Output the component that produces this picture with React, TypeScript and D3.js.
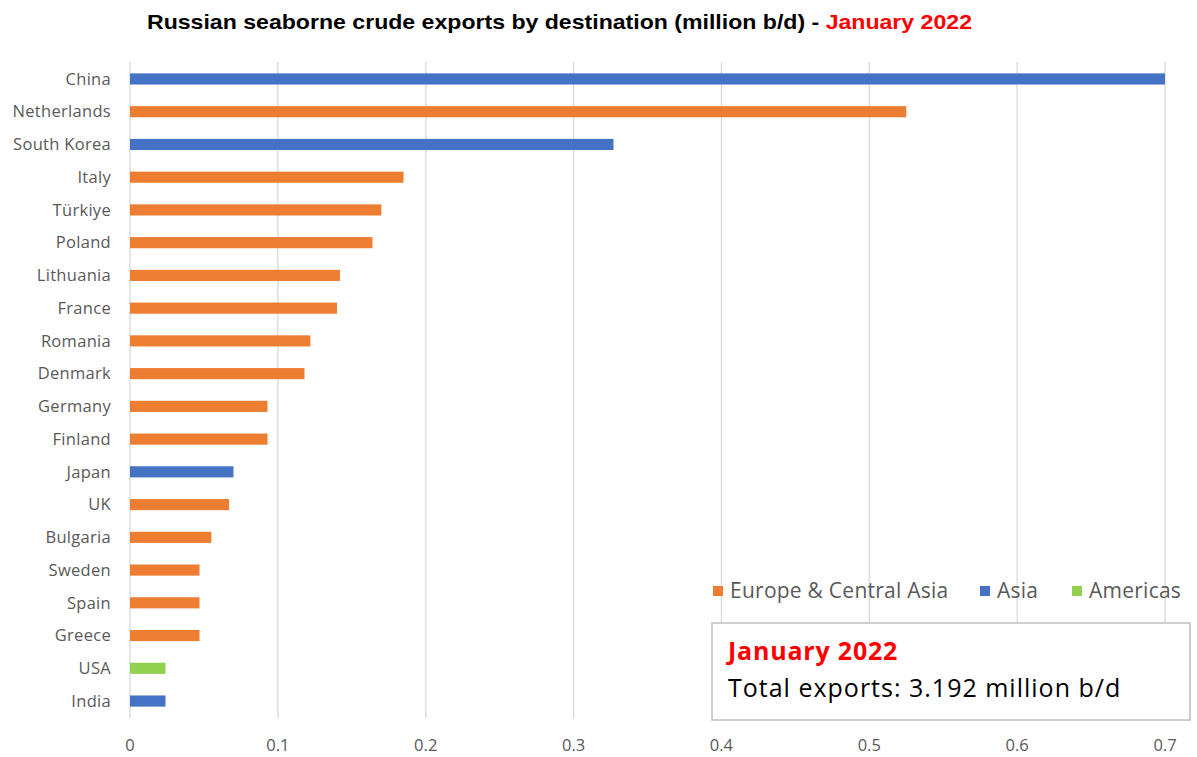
import React from 'react';
import * as d3 from 'd3';

const countries = ['China', 'Netherlands', 'South Korea', 'Italy', 'Türkiye ', 'Poland', 'Lithuania', 'France', 'Romania', 'Denmark', 'Germany', 'Finland', 'Japan', 'UK', 'Bulgaria', 'Sweden', 'Spain', 'Greece', 'USA', 'India'];
const exportsMbd = [0.70, 0.525, 0.327, 0.185, 0.170, 0.164, 0.142, 0.140, 0.122, 0.118, 0.093, 0.093, 0.070, 0.067, 0.055, 0.047, 0.047, 0.047, 0.024, 0.024];
const regions = ['Asia', 'Europe', 'Asia', 'Europe', 'Europe', 'Europe', 'Europe', 'Europe', 'Europe', 'Europe', 'Europe', 'Europe', 'Asia', 'Europe', 'Europe', 'Europe', 'Europe', 'Europe', 'Americas', 'Asia'];
const legendKeys = ['Europe', 'Asia', 'Americas'];
const legendLabels = ['Europe & Central Asia', 'Asia', 'Americas'];
const xTicks = [0, 0.1, 0.2, 0.3, 0.4, 0.5, 0.6, 0.7];

const W = 1197;
const H = 757;
const font = "'Open Sans', 'Noto Sans', sans-serif";

const color = d3.scaleOrdinal<string, string>()
  .domain(legendKeys)
  .range(['#ED7D31', '#4472C4', '#92D050']);

const App: React.FC = () => {
  const x = d3.scaleLinear().domain([0, 0.7]).range([130, 1165]);
  const y = d3.scaleBand<string>().domain(countries).range([62.6, 717.4]).paddingInner(0.66).paddingOuter(0.33);

  const legendX = [713, 980, 1072];

  return (
    <svg width={W} height={H} style={{ position: 'absolute', left: 0, top: 0, background: '#fff' }}>
      <g>
        {xTicks.map(t => (
          <line key={t} x1={x(t)} x2={x(t)} y1={62} y2={718} stroke="#d9d9d9" strokeWidth={1.3} />
        ))}
      </g>
      <g>
        {countries.map((c, i) => (
          <rect key={c} x={x(0)} y={y(c)} width={x(exportsMbd[i]) - x(0)} height={y.bandwidth()} fill={color(regions[i])} />
        ))}
      </g>
      <g fontFamily={font} fontSize={16.5} fill="#595959" textAnchor="end" letterSpacing={0.3}>
        {countries.map(c => (
          <text key={c} x={111} y={(y(c) ?? 0) + y.bandwidth() / 2} dy="0.35em">{c}</text>
        ))}
      </g>
      <g fontFamily={font} fontSize={16.5} fill="#595959" textAnchor="middle">
        {xTicks.map(t => (
          <text key={t} x={x(t)} y={745} dy="0.35em">{d3.format('~g')(t)}</text>
        ))}
      </g>
      <text x={147} y={29} textLength={825} lengthAdjust="spacingAndGlyphs" fontFamily="'Liberation Sans', Arial, sans-serif" fontWeight="bold" fontSize={21} fill="#000">
        Russian seaborne crude exports by destination (million b/d) - <tspan fill="#FF0000">January 2022</tspan>
      </text>
      <g fontFamily={font} fontSize={21} fill="#595959" letterSpacing={0.25}>
        {legendKeys.map((k, i) => (
          <g key={k}>
            <rect x={legendX[i]} y={586} width={10} height={10} fill={color(k)} />
            <text x={legendX[i] + 17} y={591} dy="0.35em">{legendLabels[i]}</text>
          </g>
        ))}
      </g>
      <rect x={712} y={623} width={478} height={97} fill="#fff" stroke="#bfbfbf" strokeWidth={1.5} />
      <text x={728} y={660} fontFamily={font} fontWeight="bold" fontSize={25} letterSpacing={0.8} fill="#FF0000">January 2022</text>
      <text x={728} y={697} fontFamily={font} fontSize={25} letterSpacing={1} fill="#000">Total exports: 3.192 million b/d</text>
    </svg>
  );
};

export default App;
